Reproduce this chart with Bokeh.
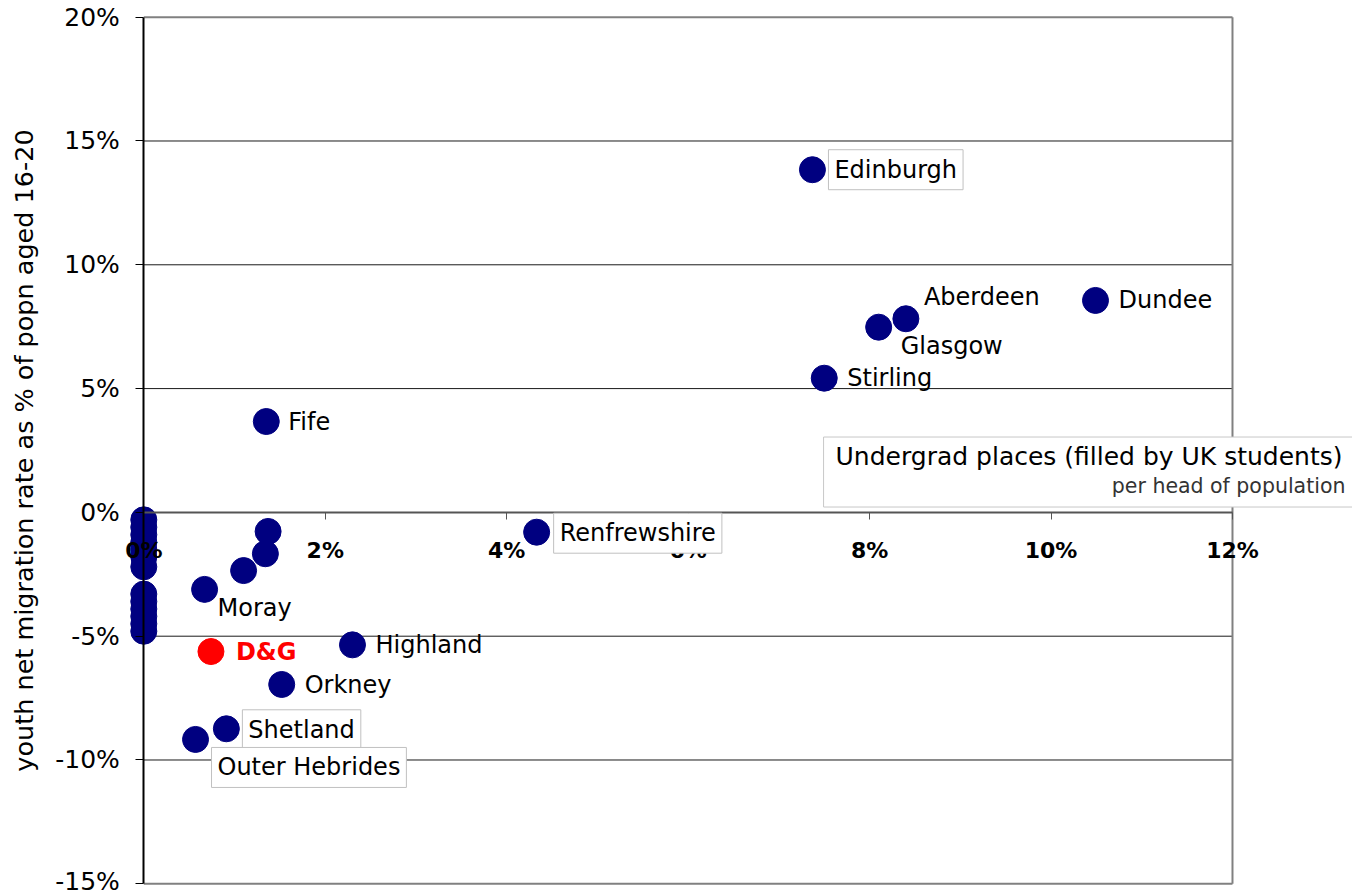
from bokeh.plotting import figure
from bokeh.models import Range1d, FixedTicker, Label, ColumnDataSource
from bokeh.embed import file_html
from bokeh.resources import INLINE

# ---------------- data ----------------
names = ["Edinburgh", "Aberdeen", "Glasgow", "Dundee", "Stirling", "Fife",
         "Renfrewshire", "Moray", "D&G", "Highland", "Orkney", "Shetland",
         "Outer Hebrides"]
undergrad = [7.37, 8.40, 8.10, 10.49, 7.50, 1.35, 4.33, 0.67, 0.74, 2.30, 1.52, 0.91, 0.57]
migration = [13.84, 7.82, 7.48, 8.56, 5.42, 3.67, -0.80, -3.11, -5.62, -5.35, -6.95, -8.74, -9.17]

other_undergrad = [1.37, 1.34, 1.10, 0.0, 0.0, 0.0, 0.0, 0.0, 0.0, 0.0, 0.0, 0.0, 0.0, 0.0, 0.0, 0.0]
other_migration = [-0.77, -1.67, -2.35, -0.3, -0.6, -0.9, -1.2, -1.5, -1.8, -2.2,
                   -3.3, -3.6, -3.9, -4.2, -4.5, -4.8]

x_ticks = [0, 2, 4, 6, 8, 10, 12]
x_tick_labels = ["0%", "2%", "4%", "6%", "8%", "10%", "12%"]
y_ticks = [-15, -10, -5, 0, 5, 10, 15, 20]
y_tick_labels = ["-15%", "-10%", "-5%", "0%", "5%", "10%", "15%", "20%"]

y_title = "youth net migration rate as % of popn aged 16-20"
x_title_1 = "Undergrad places (filled by UK students)"
x_title_2 = "per head of population"

highlight = "D&G"
boxed = {"Edinburgh", "Renfrewshire", "Shetland", "Outer Hebrides"}

# ---------------- styling ----------------
FONT = "DejaVu Sans"
NAVY = "#000080"
PAD = 6
label_offsets = {
    "Edinburgh": (22, 0), "Aberdeen": (18, 22), "Glasgow": (22, -19),
    "Dundee": (23, 0), "Stirling": (23, 0), "Fife": (22, 0),
    "Renfrewshire": (23, -1), "Moray": (13, -19), "D&G": (25, 0),
    "Highland": (23, 0), "Orkney": (23, -1), "Shetland": (22, -1),
    "Outer Hebrides": (22, -28),
}

x0, x1 = x_ticks[0], x_ticks[-1]
y0, y1 = y_ticks[0], y_ticks[-1]

# frame covers the whole canvas so that axis labels (drawn inside it) stay visible
p = figure(width=1352, height=895, output_backend="svg", toolbar_location=None,
           x_range=Range1d(x0 - 1.5796, x1 + 1.3228),
           y_range=Range1d(y0 - 0.473, y1 + 0.674),
           min_border_left=0, min_border_right=0,
           min_border_top=0, min_border_bottom=0)
p.outline_line_color = None
p.background_fill_color = "white"
p.border_fill_color = "white"
p.xgrid.visible = False
p.ygrid.visible = False

# gridlines and plot-area borders (from tick arrays)
inner = [t for t in y_ticks if t not in (y0, 0, y1)]
p.segment(x0=[x0] * len(inner), x1=[x1] * len(inner), y0=inner, y1=inner,
          line_color="#1a1a1a", line_width=1)
p.segment(x0=[x0, x0, x1], x1=[x1, x1, x1], y0=[y1, y0, y0], y1=[y1, y0, y1],
          line_color="#808080", line_width=2)

# axes
xa = p.xaxis[0]
xa.fixed_location = 0
xa.bounds = (x0, x1)
xa.ticker = FixedTicker(ticks=x_ticks)
xa.major_label_overrides = dict(zip(x_ticks, x_tick_labels))
xa.axis_line_color = "#555555"
xa.axis_line_width = 2
xa.major_tick_line_color = "#555555"
xa.major_tick_in = 0
xa.major_tick_out = 7
xa.minor_tick_line_color = None
xa.major_label_text_font = FONT
xa.major_label_text_font_style = "bold"
xa.major_label_text_font_size = "22px"
xa.major_label_text_color = "black"
xa.major_label_standoff = 19

ya = p.yaxis[0]
ya.fixed_location = 0
ya.bounds = (y0, y1)
ya.ticker = FixedTicker(ticks=y_ticks)
ya.major_label_overrides = dict(zip(y_ticks, y_tick_labels))
ya.axis_line_color = "black"
ya.axis_line_width = 2
ya.major_tick_line_color = "black"
ya.major_tick_in = 0
ya.major_tick_out = 8
ya.minor_tick_line_color = None
ya.major_label_text_font = FONT
ya.major_label_text_font_size = "25px"
ya.major_label_text_color = "black"
ya.major_label_standoff = 16
ya.axis_label = y_title
ya.axis_label_text_font = FONT
ya.axis_label_text_font_style = "normal"
ya.axis_label_text_font_size = "25.5px"
ya.axis_label_text_color = "black"
ya.axis_label_standoff = 13

# points
p.scatter(other_undergrad, other_migration, size=26, marker="circle",
          fill_color=NAVY, line_color=NAVY)
colors = ["red" if n == highlight else NAVY for n in names]
src = ColumnDataSource(dict(x=undergrad, y=migration, name=names, color=colors))
p.scatter("x", "y", source=src, size=26, marker="circle",
          fill_color="color", line_color="color")

# point labels
for n, xv, yv in zip(names, undergrad, migration):
    dx, dy = label_offsets[n]
    kw = dict(x=xv, y=yv, text=n, x_offset=dx, y_offset=dy,
              text_align="left", text_baseline="middle",
              text_font=FONT, text_font_size="24px", text_color="black")
    if n == highlight:
        kw.update(text_color="red", text_font_style="bold")
    if n in boxed:
        kw.update(background_fill_color="white", border_line_color="#c0c0c0",
                  border_line_width=1, padding=PAD, x_offset=dx - PAD)
    p.add_layout(Label(**kw))

# x axis title box (box anchored at its right/middle; padding = left, right, top, bottom)
p.add_layout(Label(x=x1 + 1.3228, y=1.63, text=x_title_1, text_align="right",
                   text_baseline="middle", text_font=FONT, text_font_size="25px",
                   text_color="black", background_fill_color="white",
                   border_line_color="#c8c8c8", border_line_width=1,
                   padding=(12, 10, 5, 36)))
p.add_layout(Label(x=13.245, y=1.06, text=x_title_2, text_align="right",
                   text_baseline="middle", text_font=FONT, text_font_size="20.5px",
                   text_color="#333333"))

open("out.html", "w").write(file_html(p, INLINE))
